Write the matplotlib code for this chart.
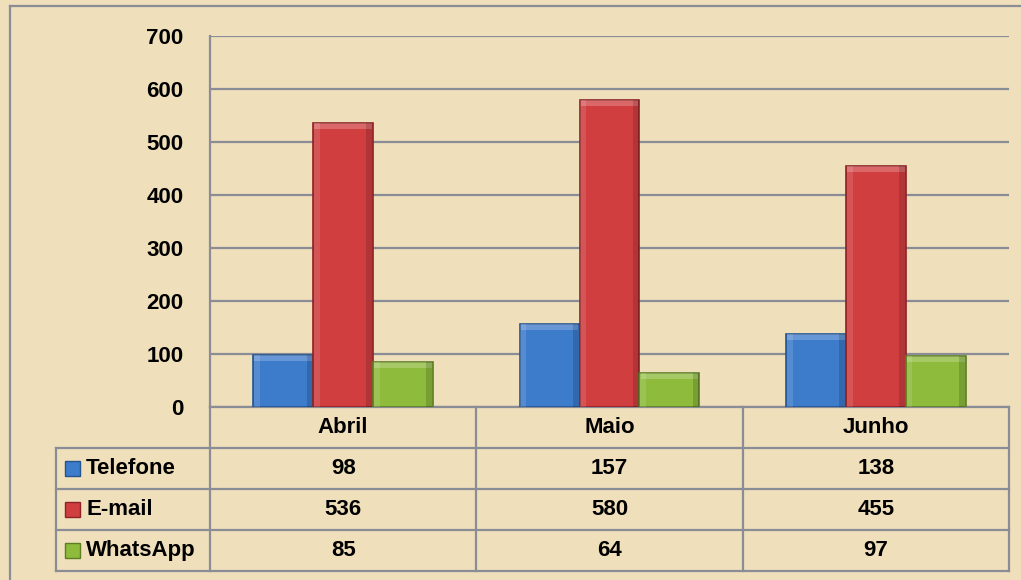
import matplotlib.pyplot as plt
import numpy as np
from matplotlib.lines import Line2D
from matplotlib.patches import Rectangle

plt.rcParams['font.family'] = ['Liberation Sans', 'DejaVu Sans']
plt.rcParams['font.weight'] = 'bold'

months = ['Abril', 'Maio', 'Junho']
series = ['Telefone', 'E-mail', 'WhatsApp']
telefone = [98, 157, 138]
email = [536, 580, 455]
whatsapp = [85, 64, 97]
yticks = [0, 100, 200, 300, 400, 500, 600, 700]

values = [telefone, email, whatsapp]
colors = ['#3D7BCB', '#D03E40', '#8EBB3C']
edges = ['#24558F', '#8E2224', '#5D7E22']
bg = '#EFDFBA'
grid_c = '#8A8C96'
FS = 16

W, H = 1021, 580
fig = plt.figure(figsize=(W / 100, H / 100), dpi=100, facecolor=bg)

# plot area in pixels
left, right, top, zero = 210, 1009, 36, 407
ax = fig.add_axes([left / W, 1 - zero / H, (right - left) / W, (zero - top) / H])
ax.set_facecolor('none')
ax.set_xlim(-0.5, 2.5)
ax.set_ylim(0, 700)
ax.set_yticks(yticks)
ax.set_yticklabels([str(t) for t in yticks], fontsize=FS, fontweight='bold')
ax.tick_params(axis='y', length=0, pad=19)
ax.set_xticks([])
ax.grid(axis='y', color=grid_c, linewidth=1.6)
ax.set_axisbelow(True)
for s in ['top', 'right', 'bottom']:
    ax.spines[s].set_visible(False)
ax.spines['left'].set_color(grid_c)
ax.spines['left'].set_linewidth(1.6)

x = np.arange(len(months))
bw = 0.225
bev = 0.022          # bevel width in category units
bev_y = 12           # bevel height in value units
for i, (vals, c, e) in enumerate(zip(values, colors, edges)):
    pos = x + (i - 1) * bw
    ax.bar(pos, vals, width=bw, color=c, edgecolor=e, linewidth=1.2, zorder=3)
    # bevel: light top, light left side, dark right side
    ax.bar(pos, [bev_y] * 3, bottom=[v - bev_y for v in vals], width=bw * 0.96,
           color='white', alpha=0.22, linewidth=0, zorder=4)
    ax.bar(pos - bw / 2 + bev / 2 + 0.003, vals, width=bev, color='white',
           alpha=0.12, linewidth=0, zorder=4)
    ax.bar(pos + bw / 2 - bev / 2 - 0.003, vals, width=bev, color='black',
           alpha=0.15, linewidth=0, zorder=4)

# data table below the plot
row_h = 41 / (zero - top)
leg_left = (56 - left) / (right - left)
tbl = dict(color=grid_c, linewidth=1.6, transform=ax.transAxes, clip_on=False)
n_rows = len(series) + 1
ax.add_line(Line2D([0, 0], [0, -n_rows * row_h], **tbl))
ax.add_line(Line2D([1, 1], [0, -n_rows * row_h], **tbl))
for k in range(1, len(months)):
    ax.add_line(Line2D([k / 3, k / 3], [0, -n_rows * row_h], **tbl))
ax.add_line(Line2D([0, 1], [0, 0], **tbl))
for r in range(1, n_rows + 1):
    ax.add_line(Line2D([leg_left, 1], [-r * row_h, -r * row_h], **tbl))
ax.add_line(Line2D([leg_left, leg_left], [-row_h, -n_rows * row_h], **tbl))

for j, m in enumerate(months):
    ax.text((j + 0.5) / 3, -0.5 * row_h, m, transform=ax.transAxes, ha='center',
            va='center', fontsize=FS, fontweight='bold')
for r, (name, vals) in enumerate(zip(series, values)):
    yc = -(r + 1.5) * row_h
    for j, v in enumerate(vals):
        ax.text((j + 0.5) / 3, yc, str(v), transform=ax.transAxes, ha='center',
                va='center', fontsize=FS, fontweight='bold')
    ax.text(leg_left + 30 / (right - left), yc, name, transform=ax.transAxes,
            ha='left', va='center', fontsize=FS, fontweight='bold')
    sq = 15 / (right - left)
    sqh = 15 / (zero - top)
    ax.add_patch(Rectangle((leg_left + 9 / (right - left), yc - sqh / 2), sq, sqh,
                           facecolor=colors[r], edgecolor=edges[r], linewidth=1,
                           transform=ax.transAxes, clip_on=False))

# outer chart border
fig.add_artist(Line2D([10 / W, 1], [1 - 6 / H, 1 - 6 / H], color=grid_c, linewidth=1.6))
fig.add_artist(Line2D([10 / W, 10 / W], [0, 1 - 6 / H], color=grid_c, linewidth=1.6))

fig.savefig('out.png', dpi=100, facecolor=bg)
